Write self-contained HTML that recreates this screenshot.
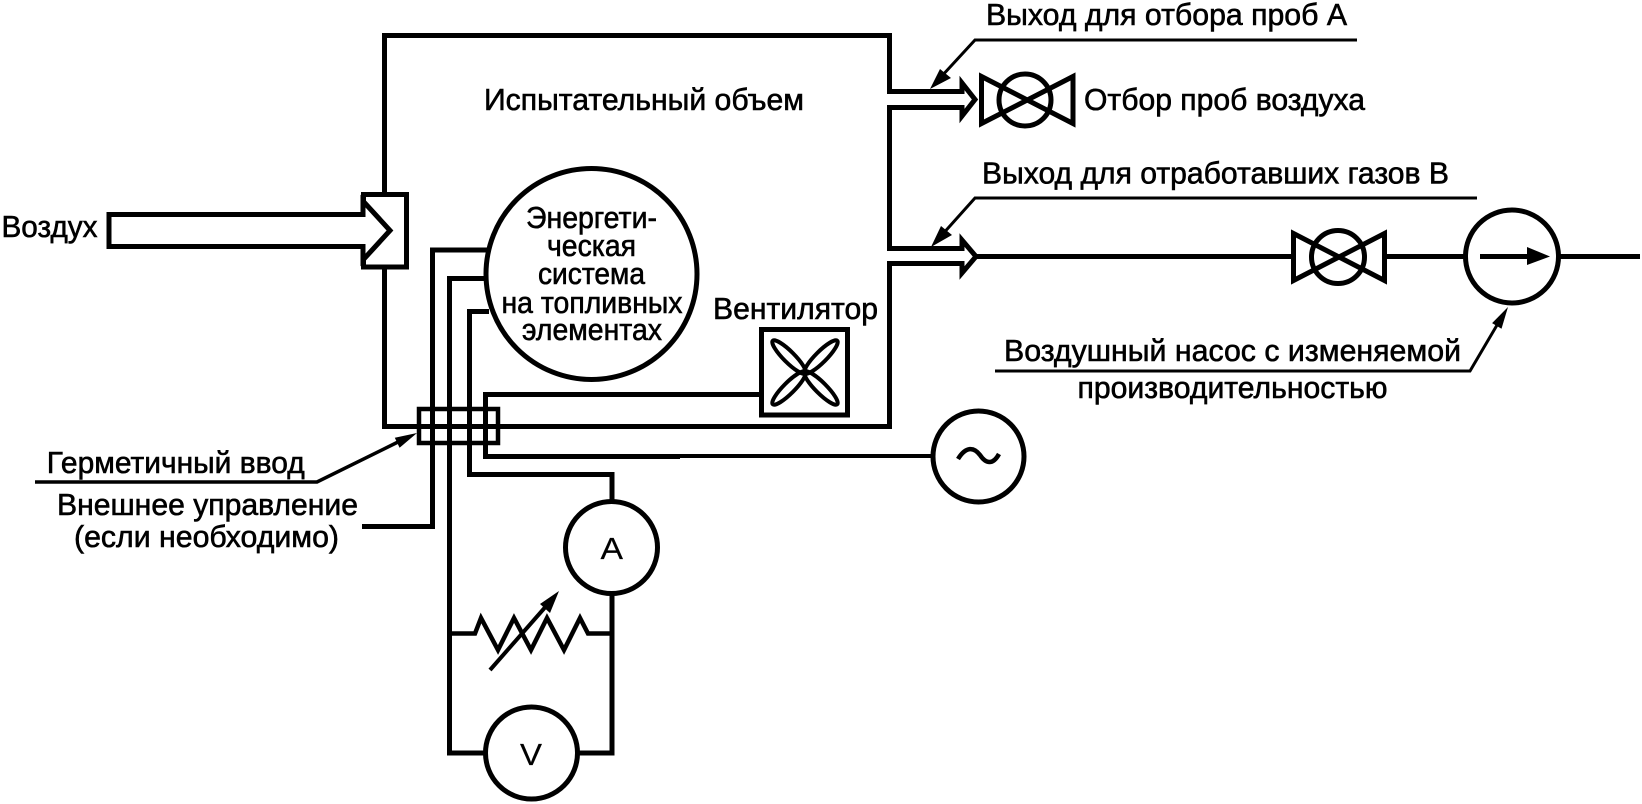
<!DOCTYPE html>
<html lang="ru">
<head>
<meta charset="utf-8">
<title>Схема</title>
<style>
html,body{margin:0;padding:0;background:#fff;width:1642px;height:804px;overflow:hidden}
svg{display:block}
text{font-family:"Liberation Sans",sans-serif;font-size:31px;fill:#000;stroke:#000;stroke-width:.6px}
.w{fill:none;stroke:#000;stroke-width:5;stroke-miterlimit:10}
.t{fill:none;stroke:#000;stroke-width:3}
.f{fill:#000;stroke:none}
</style>
</head>
<body>
<svg width="1642" height="804" viewBox="0 0 1642 804" xmlns="http://www.w3.org/2000/svg">
<rect width="1642" height="804" fill="#fff"/>

<!-- Test volume walls -->
<polyline class="w" points="384.5,192 384.5,35.5 889.5,35.5 889.5,91.5"/>
<polyline class="w" points="889.5,107.5 889.5,248.5"/>
<polyline class="w" points="889.5,263.5 889.5,426.5 384.5,426.5 384.5,269"/>

<!-- Air inlet -->
<rect class="w" x="363.5" y="194.5" width="43" height="72.5" style="fill:#fff"/>
<polygon class="w" points="109,214.5 363,214.5 363,201 390,230.5 363,260 363,246.5 109,246.5" style="fill:#fff"/>
<polyline class="w" points="363.5,194.5 363.5,202"/>
<polyline class="w" points="363.5,259 363.5,267"/>

<!-- Outlet A -->
<polyline class="w" points="887,91.5 962,91.5 962,83 975,99.5 962,116 962,107.5 887,107.5"/>
<!-- Outlet B -->
<polyline class="w" points="887,248.5 962,248.5 962,240 976,256.5 962,273 962,263.5 887,263.5"/>

<!-- Valve A -->
<circle class="w" cx="1025" cy="100" r="26"/>
<polygon class="w" points="981.5,76.5 1073,123.5 1073,76.5 981.5,123.5"/>
<!-- Valve B -->
<line class="w" x1="976" y1="256.5" x2="1292" y2="256.5"/>
<circle class="w" cx="1338" cy="257" r="26.5"/>
<polygon class="w" points="1293.5,233.5 1384.5,280.5 1384.5,233.5 1293.5,280.5"/>
<line class="w" x1="1385" y1="256.5" x2="1465" y2="256.5"/>

<!-- Pump -->
<circle class="w" cx="1512" cy="256.5" r="46.5"/>
<line class="w" x1="1480" y1="256.5" x2="1530" y2="256.5"/>
<polygon class="f" points="1527,247 1550,256.5 1527,265"/>
<line class="w" x1="1559" y1="256.5" x2="1640" y2="256.5"/>

<!-- Fuel cell -->
<circle class="w" cx="591.5" cy="274" r="105.5"/>

<!-- Wires -->
<polyline class="w" points="487,250 432.5,250 432.5,526.5 362,526.5"/>
<polyline class="w" points="486,278.5 449.5,278.5 449.5,753 485,753"/>
<polyline class="w" points="489,311.5 469.5,311.5 469.5,474.5 612,474.5 612,500"/>
<polyline class="w" points="760,394.5 485.5,394.5 485.5,456.5 680,456.5"/>
<line x1="680" y1="456" x2="932" y2="456" stroke="#000" stroke-width="4"/>
<polyline class="w" points="612,595 612,753 577,753"/>

<!-- Feedthrough -->
<rect x="419" y="409" width="79" height="34" fill="none" stroke="#000" stroke-width="4.5"/>

<!-- Fan -->
<rect x="761.5" y="329.5" width="86" height="85.5" fill="none" stroke="#000" stroke-width="5"/>
<g fill="none" stroke="#000" stroke-width="4">
<ellipse cx="789" cy="357" rx="23" ry="5.5" transform="rotate(45 789 357)"/>
<ellipse cx="821" cy="357" rx="23" ry="5.5" transform="rotate(-45 821 357)"/>
<ellipse cx="789" cy="388" rx="23" ry="5.5" transform="rotate(-45 789 388)"/>
<ellipse cx="821" cy="388" rx="23" ry="5.5" transform="rotate(45 821 388)"/>
</g>

<!-- AC source -->
<circle class="w" cx="978.5" cy="456.5" r="45.5"/>
<path class="w" style="stroke-width:4.5" d="M958,459 C966,446 974,447 980,455 C986,464 993,465 999,454"/>

<!-- Ammeter, voltmeter -->
<circle class="w" cx="611.5" cy="547.5" r="46"/>
<circle class="w" cx="531.5" cy="753" r="46"/>

<!-- Resistor -->
<polyline class="w" style="stroke-width:4.5" points="449.5,633.5 475,633.5 481,618 498,650 514,618 531,650 547,618 564,650 580,618 588,633.5 612,633.5"/>
<line x1="490" y1="670" x2="548" y2="604" stroke="#000" stroke-width="4"/>
<polygon class="f" points="559,591 550,613 540,604"/>

<!-- Leaders -->
<polyline class="t" points="1357,40 975,40 940,78"/>
<polygon class="f" points="930,89 951,78 940,69"/>
<polyline class="t" points="1477,198 975,198 941,236"/>
<polygon class="f" points="931,247 952,235 941,226"/>
<polyline class="t" points="995,371 1470,371 1500,320"/>
<polygon class="f" points="1508,307 1501.5,328.7 1492.1,323.1"/>
<polyline class="t" style="stroke-width:3.5" points="35,482 317,482 398,442"/>
<polygon class="f" points="417,433 399.6,447.7 394.8,437.7"/>

<!-- Labels -->
<text x="1.5" y="237" textLength="96" lengthAdjust="spacingAndGlyphs">Воздух</text>
<text x="484" y="110" textLength="320" lengthAdjust="spacingAndGlyphs">Испытательный объем</text>
<text x="526" y="228" textLength="131" lengthAdjust="spacingAndGlyphs">Энергети-</text>
<text x="547" y="256" textLength="89" lengthAdjust="spacingAndGlyphs">ческая</text>
<text x="538" y="284" textLength="107" lengthAdjust="spacingAndGlyphs">система</text>
<text x="501.5" y="313" textLength="181" lengthAdjust="spacingAndGlyphs">на топливных</text>
<text x="522" y="340" textLength="140" lengthAdjust="spacingAndGlyphs">элементах</text>
<text x="713" y="319" textLength="165" lengthAdjust="spacingAndGlyphs">Вентилятор</text>
<text x="986" y="25" textLength="361" lengthAdjust="spacingAndGlyphs">Выход для отбора проб А</text>
<text x="1084" y="110" textLength="281" lengthAdjust="spacingAndGlyphs">Отбор проб воздуха</text>
<text x="982" y="183.5" textLength="467" lengthAdjust="spacingAndGlyphs">Выход для отработавших газов В</text>
<text x="1004" y="361" textLength="457" lengthAdjust="spacingAndGlyphs">Воздушный насос с изменяемой</text>
<text x="1077.5" y="398" textLength="310" lengthAdjust="spacingAndGlyphs">производительностью</text>
<text x="46.7" y="473" textLength="258" lengthAdjust="spacingAndGlyphs">Герметичный ввод</text>
<text x="57" y="515" textLength="301" lengthAdjust="spacingAndGlyphs">Внешнее управление</text>
<text x="74" y="547" textLength="265" lengthAdjust="spacingAndGlyphs">(если необходимо)</text>
<text x="600.5" y="559" textLength="22.5" lengthAdjust="spacingAndGlyphs" style="stroke-width:.2px">A</text>
<text x="520" y="765" textLength="22" lengthAdjust="spacingAndGlyphs" style="stroke-width:.2px">V</text>
</svg>
</body>
</html>
